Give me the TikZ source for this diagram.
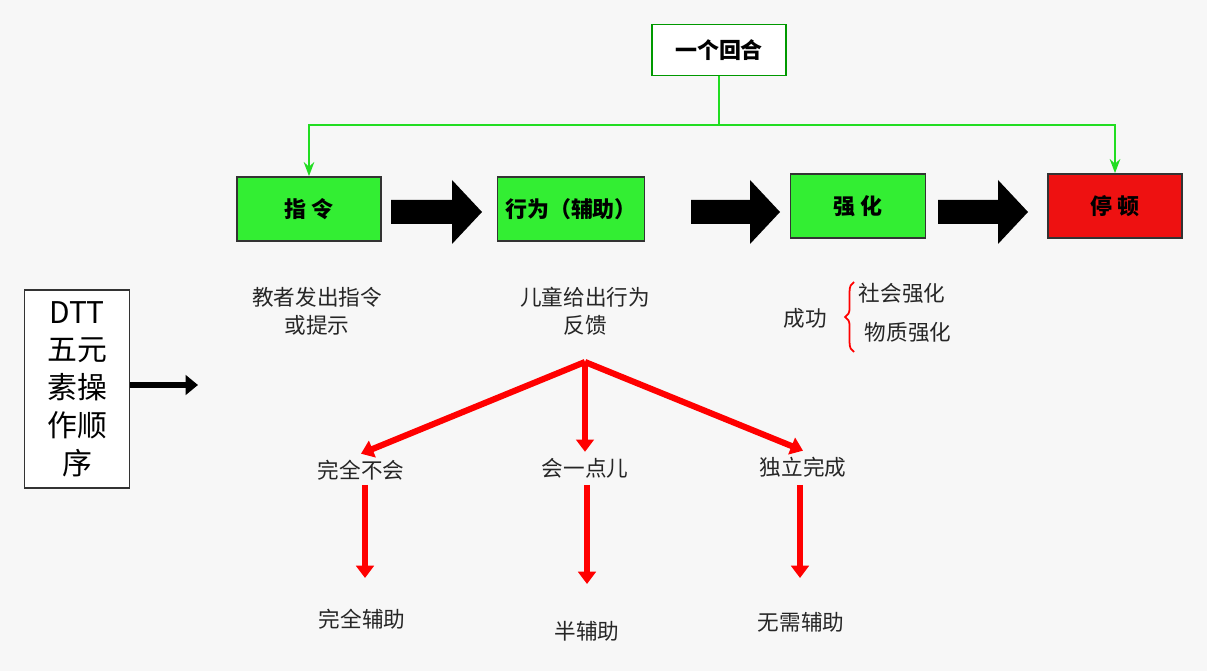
\documentclass[tikz,border=0pt]{standalone}
\usepackage{fontspec}
\newfontfamily\cjk{Noto Sans CJK SC}
\usetikzlibrary{arrows.meta,decorations.pathreplacing}
\definecolor{gfill}{HTML}{33EE33}
\definecolor{gline}{HTML}{22DD22}
\definecolor{rfill}{HTML}{EE1111}
\begin{document}
\begin{tikzpicture}[x=0.02cm,y=-0.02cm,
  box/.style={draw=black!80,line width=1pt,minimum height=1.28cm,font=\cjk\bfseries\fontsize{12.5}{14}\selectfont},
  lab/.style={font=\cjk\fontsize{12.3}{16}\selectfont,align=center,text=black!85},
  rar/.style={draw=red,line width=3.5pt,-{Triangle[length=7pt,width=10pt]}}]
\fill[black!3] (0,0) rectangle (1207,671);
\useasboundingbox (0,0) rectangle (1207,671);
\node[draw=green!60!black,line width=1pt,fill=white,minimum width=2.68cm,minimum height=1.02cm,font=\cjk\bfseries\fontsize{12.5}{14}\selectfont] (top) at (719,50) {一个回合};
\node[box,fill=gfill,minimum width=2.88cm] (a) at (309,209) {指 令};
\node[box,fill=gfill,minimum width=2.94cm] (b) at (571,209) {行为（辅助）};
\node[box,fill=gfill,minimum width=2.7cm] (c) at (858,206) {强 化};
\node[box,fill=rfill,minimum width=2.68cm] (d) at (1115,206) {停 顿};
\coordinate (j) at (719,125);
\draw[gline,line width=1pt] (top.south) -- (j);
\draw[gline,line width=1pt,-{Stealth[length=8pt]}] (j) -| (a.north);
\draw[gline,line width=1pt,-{Stealth[length=8pt]}] (j) -| (d.north);
\foreach \x/\e in {391/482,691/780,938/1028}{
  \fill[black] (\x,200) -- (\e-30,200) -- (\e-30,180) -- (\e,212) -- (\e-30,244) -- (\e-30,224) -- (\x,224) -- cycle;}
\node[lab] (t1) at (317,311) {教者发出指令\\或提示};
\node[lab] (t2) at (585,311) {儿童给出行为\\反馈};
\node[lab] (s) at (805,318) {成功};
\draw[draw=red,line width=1pt,decorate,decoration={brace,amplitude=5pt}] (854,352) -- (854,282);
\node[lab] (s1) at (902,293) {社会强化};
\node[lab] (s2) at (908,332) {物质强化};
\node[draw=black!80,line width=1pt,fill=white,minimum width=2.1cm,minimum height=3.96cm,align=center,font=\cjk\fontsize{17}{21.5}\selectfont] (dtt) at (77,389) {DTT\\五元\\素操\\作顺\\序};
\coordinate (dtte) at (198,385);
\draw[line width=3.5pt,-{Triangle[length=7pt,width=11pt]}] (dtt.east|-dtte) -- (dtte);
\coordinate (o) at (585,362);
\node[lab] (m1) at (361,470) {完全不会};
\node[lab] (m2) at (585,468) {会一点儿};
\node[lab] (m3) at (803,467) {独立完成};
\draw[rar] (o) -- (m1.north);
\draw[rar] (o) -- (m2.north);
\draw[rar] (o) -- (m3.north);
\node[lab] (n1) at (362,619) {完全辅助};
\node[lab] (n2) at (587,631) {半辅助};
\node[lab] (n3) at (801,622) {无需辅助};
\draw[rar] (365,485) -- (365,578);
\draw[rar] (587,485) -- (587,584);
\draw[rar] (800,485) -- (800,578);
\end{tikzpicture}
\end{document}
